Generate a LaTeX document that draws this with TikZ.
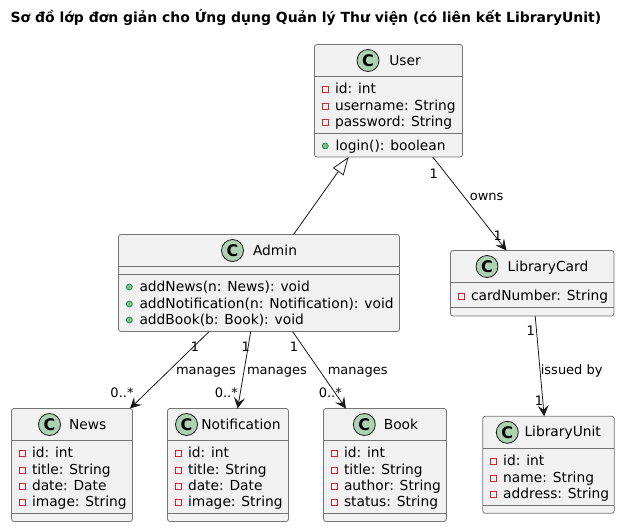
\documentclass[tikz,border=0pt]{standalone}
\usepackage{fontspec}
\setmainfont{DejaVu Sans}
\usetikzlibrary{arrows.meta}
\definecolor{boxfill}{HTML}{F1F1F1}
\definecolor{boxline}{HTML}{181818}
\definecolor{spotfill}{HTML}{ADD1B2}
\definecolor{privline}{HTML}{C82930}
\definecolor{pubfill}{HTML}{84BE84}
\definecolor{publine}{HTML}{038048}
\tikzset{
	classbox/.style={draw=boxline!60, fill=boxfill, line width=0.8pt, rounded corners=2.5pt, inner sep=0pt, outer sep=0pt},
	spot/.style={circle, draw=boxline, fill=spotfill, line width=0.8pt, minimum size=22pt, inner sep=0pt, font=\fontsize{16}{18}\selectfont\bfseries},
	classname/.style={anchor=base, inner sep=0pt, font=\fontsize{13.8}{16}\selectfont},
	member/.style={anchor=base west, inner sep=0pt, font=\fontsize{13.8}{16}\selectfont},
	privmark/.style={rectangle, draw=privline, line width=0.8pt, minimum size=6pt, inner sep=0pt},
	pubmark/.style={circle, draw=publine, fill=pubfill, line width=0.6pt, minimum size=6pt, inner sep=0pt},
	edgetext/.style={anchor=base, inner sep=0pt, font=\fontsize{13}{15}\selectfont},
	assoc/.style={draw=boxline, line width=0.8pt, -{Stealth[length=11pt, width=11pt, inset=4.5pt]}},
	inherit/.style={draw=boxline, line width=0.8pt, -{Triangle[open, fill=white, length=18pt, width=13pt]}},
}
\begin{document}
\begin{tikzpicture}[x=1pt, y=-1pt]
	\useasboundingbox (0,0) rectangle (620,527);
	\node[anchor=base west, inner sep=0pt, font=\fontsize{13.95}{16}\selectfont\bfseries] (title) at (10.5,23) {Sơ đồ lớp đơn giản cho Ứng dụng Quản lý Thư viện (có liên kết LibraryUnit)};
	% class boxes: name / left / right / top / bottom / dividers / spot x / name x
	\foreach \nm/\xl/\xr/\yt/\yb/\da/\db/\xs/\xn in {
		User/314.5/462.5/44.5/157/76.5/133.5/368/405,
		Admin/118.5/399.5/234.5/331.5/266.5/274.5/232.5/275,
		LibraryCard/450.5/614/250.5/316/282.5/307.5/487/548,
		News/11.5/132.5/408.5/521.5/440.5/513.5/49.5/87.7,
		Notification/167.5/288.5/408.5/521.5/440.5/513.5/186.5/241,
		Book/323.5/446.5/408.5/521.5/440.5/513.5/364.3/401,
		LibraryUnit/482.7/614.3/416.3/513.3/448.3/505.3/507.3/562.7} {
		\node[classbox, minimum width={(\xr-\xl)*1pt}, minimum height={(\yb-\yt)*1pt}] (\nm) at ({(\xl+\xr)/2},{(\yt+\yb)/2}) {};
		\draw[boxline!60, line width=0.8pt] (\nm.west |- 0,\da) -- (\nm.east |- 0,\da);
		\draw[boxline!60, line width=0.8pt] (\nm.west |- 0,\db) -- (\nm.east |- 0,\db);
		\node[spot] (\nm-spot) at (\xs,{\yt+16}) {C};
		\node[classname] (\nm-name) at (\xn,{\yt+20.5}) {\nm};
	}
	% private fields
	\foreach \nm/\y/\t in {
		User/93/id: int, User/110/username: String, User/126/password: String,
		LibraryCard/300/cardNumber: String,
		News/457/id: int, News/474/title: String, News/490/date: Date, News/506/image: String,
		Notification/457/id: int, Notification/474/title: String, Notification/490/date: Date, Notification/506/image: String,
		Book/457/id: int, Book/474/title: String, Book/490/author: String, Book/506/status: String,
		LibraryUnit/465/id: int, LibraryUnit/482/name: String, LibraryUnit/498/address: String} {
		\node[privmark, xshift=10.8pt] (\nm-mark\y) at (\nm.west |- 0,{\y-4}) {};
		\node[member, xshift=20.3pt] (\nm-text\y) at (\nm.west |- 0,\y) {\t};
	}
	% public methods
	\foreach \nm/\y/\t in {
		User/150/login(): boolean,
		Admin/291/addNews(n: News): void, Admin/308/addNotification(n: Notification): void, Admin/324/addBook(b: Book): void} {
		\node[pubmark, xshift=10.8pt] (\nm-mark\y) at (\nm.west |- 0,{\y-4}) {};
		\node[member, xshift=20.8pt] (\nm-text\y) at (\nm.west |- 0,\y) {\t};
	}
	\draw[inherit] (Admin) -- (User);
	\draw[assoc] (User) -- (LibraryCard);
	\draw[assoc] (LibraryCard) -- (LibraryUnit);
	\foreach \to in {News, Notification, Book} \draw[assoc] (Admin) -- (\to);
	% edge labels
	\foreach \n/\x/\y/\t in {
		a/433.7/178/1, b/486.7/200/owns, c/497.7/240/1,
		d/530.7/335/1, e/571.7/374/issued by, f/539/405/1,
		g/195/351/1, h/206/374/manages, i/122/397/0..*,
		j/245.7/351/1, k/277/374/manages, l/226.3/397/0..*,
		m/294/351/1, n/357.7/374/manages, o/330.3/397/0..*} {
		\node[edgetext] (label-\n) at (\x,\y) {\t};
	}
\end{tikzpicture}
\end{document}
